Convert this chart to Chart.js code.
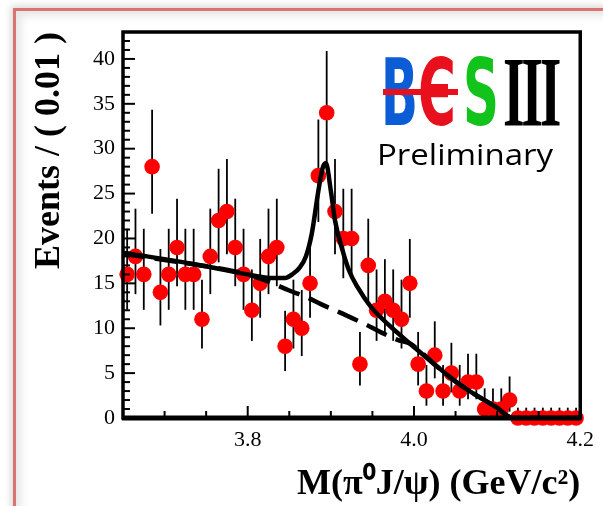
<!DOCTYPE html>
<html>
<head>
<meta charset="utf-8">
<script src="https://cdn.jsdelivr.net/npm/chart.js@4.4.1/dist/chart.umd.min.js"></script>
<style>
  body { margin: 0; background: #fff; overflow: hidden; }
  #frame {
    position: absolute; left: 13px; top: 8px; width: 700px; height: 620px;
    border: 3px solid #d9756f;
    box-shadow: 0 0 7px 2px rgba(0,0,0,0.16), inset 5px 5px 9px rgba(0,0,0,0.10);
  }
  #chart { position: absolute; left: 0; top: 0; }
</style>
</head>
<body>
<div id="frame"></div>
<canvas id="chart" width="603" height="506"></canvas>
<script>
// bin centres of the M(pi0 J/psi) histogram, GeV/c^2
const masses = [3.655, 3.665, 3.675, 3.685, 3.695, 3.705, 3.715, 3.725, 3.735, 3.745,
  3.755, 3.765, 3.775, 3.785, 3.795, 3.805, 3.815, 3.825, 3.835, 3.845,
  3.855, 3.865, 3.875, 3.885, 3.895, 3.905, 3.915, 3.925, 3.935, 3.945,
  3.955, 3.965, 3.975, 3.985, 3.995, 4.005, 4.015, 4.025, 4.035, 4.045,
  4.055, 4.065, 4.075, 4.085, 4.095, 4.105, 4.115, 4.125, 4.135, 4.145,
  4.155, 4.165, 4.175, 4.185, 4.195];
const counts = [16, 18, 16, 28, 14, 16, 19, 16, 16, 11,
  18, 22, 23, 19, 16, 12, 15, 18, 19, 8,
  11, 10, 15, 27, 34, 23, 20, 20, 6, 17,
  12, 13, 12, 11, 15, 6, 3, 7, 3, 5,
  3, 4, 4, 1, 1, 1, 2, 0, 0, 0,
  0, 0, 0, 0, 0];
// asymmetric poisson errors
const errLow = [3.95, 4.20, 3.95, 5.26, 3.69, 3.95, 4.32, 3.95, 3.95, 3.26,
  4.20, 4.66, 4.76, 4.32, 3.95, 3.41, 3.83, 4.20, 4.32, 2.77,
  3.26, 3.10, 3.83, 5.16, 5.80, 4.76, 4.43, 4.43, 2.37, 4.07,
  3.41, 3.55, 3.41, 3.26, 3.83, 2.37, 1.63, 2.58, 1.63, 2.15,
  1.63, 1.91, 1.91, 0.83, 0.83, 0.83, 1.29, 0, 0, 0,
  0, 0, 0, 0, 0];
const errHigh = [5.08, 5.32, 5.08, 6.35, 4.83, 5.08, 5.43, 5.08, 5.08, 4.41,
  5.32, 5.76, 5.86, 5.43, 5.08, 4.55, 4.95, 5.32, 5.43, 3.94,
  4.41, 4.26, 4.95, 6.25, 6.88, 5.86, 5.54, 5.54, 3.58, 5.20,
  4.55, 4.69, 4.55, 4.41, 4.95, 3.58, 2.91, 3.77, 2.91, 3.38,
  2.91, 3.16, 3.16, 2.30, 2.30, 2.30, 2.63, 1.15, 1.15, 1.15,
  1.15, 1.15, 1.15, 1.15, 1.15];

// total fit curve (solid)
const fitMass = [3.65, 3.70, 3.75, 3.80, 3.83, 3.845, 3.855, 3.862, 3.870, 3.877,
  3.885, 3.890, 3.894, 3.900, 3.905, 3.914, 3.922, 3.932, 3.948, 3.968,
  3.995, 4.027, 4.051, 4.067, 4.099, 4.119, 4.20];
const fitTotal = [18.4, 17.7, 16.9, 16.0, 15.6, 15.6, 16.1, 16.7, 18.0, 20.5,
  25.3, 27.8, 28.4, 25.3, 22.0, 18.7, 16.4, 14.6, 12.4, 10.5,
  8.3, 5.8, 4.0, 3.0, 1.2, 0, 0];
// background only (dashed)
const bkgMass = [3.65, 3.70, 3.75, 3.80, 3.83, 3.85, 3.87, 3.89, 3.91, 3.94,
  3.98, 3.995, 4.027, 4.051, 4.067, 4.099, 4.119, 4.20];
const bkgValues = [18.3, 17.6, 16.9, 16.0, 15.0, 14.2, 13.5, 12.6, 11.8, 10.5,
  8.7, 8.3, 5.8, 4.0, 3.0, 1.2, 0, 0];

const xTickLabels = ["3.8", "4.0", "4.2"];

const serif = "'Liberation Serif', 'Times New Roman', serif";

const errorBars = {
  id: "errorBars",
  beforeDatasetDraw(chart, args) {
    if (args.index !== 2) return;
    const xs = chart.scales.x, ys = chart.scales.y, c = chart.ctx;
    c.save();
    c.strokeStyle = "#000";
    c.lineWidth = 1.8;
    masses.forEach((m, i) => {
      const px = xs.getPixelForValue(m);
      c.beginPath();
      c.moveTo(px, ys.getPixelForValue(counts[i] - errLow[i]));
      c.lineTo(px, ys.getPixelForValue(counts[i] + errHigh[i]));
      c.stroke();
    });
    c.restore();
  }
};

const frame = {
  id: "frame",
  afterDatasetsDraw(chart) {
    const { left, right, top, bottom } = chart.chartArea;
    const xs = chart.scales.x, ys = chart.scales.y, c = chart.ctx;
    c.save();
    c.strokeStyle = "#000";
    c.lineWidth = 2;
    xs.ticks.forEach((t) => {
      const px = xs.getPixelForValue(t.value);
      const len = t.label ? 12 : 7;
      c.beginPath();
      c.moveTo(px, bottom);
      c.lineTo(px, bottom - len);
      c.stroke();
    });
    ys.ticks.forEach((t) => {
      const py = ys.getPixelForValue(t.value);
      const len = t.label ? 12 : 7;
      c.beginPath();
      c.moveTo(left, py);
      c.lineTo(left + len, py);
      c.stroke();
    });
    c.lineWidth = 3.5;
    c.strokeRect(left, top, right - left, bottom - top);
    c.lineWidth = 5;
    c.beginPath();
    c.moveTo(left - 1, bottom);
    c.lineTo(right + 1, bottom);
    c.stroke();
    c.restore();
  }
};

const logo = {
  id: "logo",
  afterDraw(chart) {
    const c = chart.ctx;
    c.save();
    c.textBaseline = "alphabetic";
    c.textAlign = "left";
    c.font = "bold 92px 'DejaVu Sans'";
    c.fillStyle = "#0b5cd5";
    c.fillText("B", 381, 125, 37);
    c.fillStyle = "#e8101c";
    c.fillText("Є", 418, 125, 38);
    c.fillRect(383, 89, 75, 6);
    c.fillStyle = "#12c31c";
    c.fillText("S", 463, 125, 36);
    c.fillStyle = "#000";
    c.font = "bold 100px 'Liberation Serif'";
    c.letterSpacing = "-6px";
    c.fillText("III", 503, 125, 55);
    c.letterSpacing = "0px";
    c.font = "30px 'Open Sans'";
    c.translate(377, 165);
    c.scale(1.1, 1);
    c.fillText("Preliminary", 0, 0);
    c.restore();
  }
};

new Chart(document.getElementById("chart").getContext("2d"), {
  type: "scatter",
  data: {
    datasets: [
      {
        data: fitMass.map((m, i) => ({ x: m, y: fitTotal[i] })),
        showLine: true,
        borderColor: "#000",
        borderWidth: 4.5,
        pointRadius: 0,
        cubicInterpolationMode: "monotone"
      },
      {
        data: bkgMass.map((m, i) => ({ x: m, y: bkgValues[i] })),
        showLine: true,
        borderColor: "#000",
        borderWidth: 4.5,
        borderDash: [22, 10],
        pointRadius: 0,
        cubicInterpolationMode: "monotone"
      },
      {
        data: masses.map((m, i) => ({ x: m, y: counts[i] })),
        pointRadius: 7.8,
        pointBackgroundColor: "#ff0000",
        pointBorderWidth: 0,
        clip: false
      }
    ]
  },
  options: {
    responsive: false,
    animation: false,
    devicePixelRatio: 1,
    layout: { padding: { left: 0, top: 32, right: 19, bottom: 0 } },
    plugins: { legend: { display: false }, tooltip: { enabled: false } },
    scales: {
      x: {
        type: "linear",
        min: 3.65,
        max: 4.2,
        afterFit(s) { s.height = 88; },
        grid: { display: false, drawTicks: false },
        border: { display: false },
        ticks: {
          stepSize: 0.05,
          autoSkip: false,
          maxRotation: 0,
          padding: 9,
          color: "#000",
          font: { family: serif, size: 22 },
          callback(v) {
            const s = v.toFixed(1);
            return Math.abs(v - parseFloat(s)) < 1e-6 && xTickLabels.includes(s) ? s : "";
          }
        },
        title: {
          display: true,
          text: "M(π⁰J/ψ) (GeV/c²)",
          align: "end",
          color: "#000",
          font: { family: serif, size: 36, weight: "bold", lineHeight: 1.2 },
          padding: { top: 0, bottom: 0 }
        }
      },
      y: {
        min: 0,
        max: 43,
        afterFit(s) { s.width = 123; },
        grid: { display: false, drawTicks: false },
        border: { display: false },
        ticks: {
          stepSize: 1,
          autoSkip: false,
          padding: 8,
          color: "#000",
          font: { family: serif, size: 22 },
          callback(v) { return v % 5 === 0 ? String(v) : ""; }
        },
        title: {
          display: true,
          text: "Events / ( 0.01 )",
          align: "end",
          color: "#000",
          font: { family: serif, size: 36, weight: "bold", lineHeight: 1 },
          padding: { top: 32, bottom: 0 }
        }
      }
    }
  },
  plugins: [errorBars, frame, logo]
});
</script>
</body>
</html>
